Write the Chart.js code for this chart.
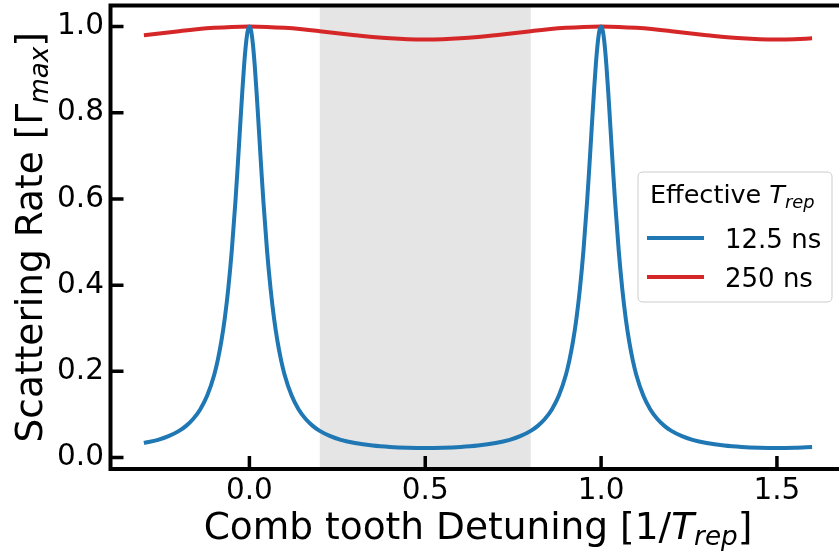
<!DOCTYPE html>
<html><head><meta charset="utf-8">
<script src="https://cdn.jsdelivr.net/npm/chart.js@4"></script>
<style>html,body{margin:0;padding:0;background:#fff;overflow:hidden;width:839px;height:552px}</style>
</head><body>
<canvas id="c" width="860" height="552" style="width:860px;height:552px;display:block"></canvas>
<script>
// ---- data ----
const blueX = [-0.30,-0.26,-0.23,-0.20,-0.18,-0.16,-0.14,-0.12,-0.10,-0.09,-0.08,-0.07,-0.06,-0.05,-0.04,-0.035,-0.03,-0.025,-0.02,-0.015,-0.01,-0.005,
  0,0.005,0.01,0.015,0.02,0.025,0.03,0.035,0.04,0.05,0.06,0.07,0.08,0.09,0.10,0.12,0.14,0.16,0.18,0.20,0.23,0.26,0.30,0.35,0.40,0.45,
  0.50,0.55,0.60,0.65,0.70,0.74,0.77,0.80,0.82,0.84,0.86,0.88,0.90,0.91,0.92,0.93,0.94,0.95,0.96,0.965,0.97,0.975,0.98,0.985,0.99,0.995,
  1.00,1.005,1.01,1.015,1.02,1.025,1.03,1.035,1.04,1.05,1.06,1.07,1.08,1.09,1.10,1.12,1.14,1.16,1.18,1.20,1.23,1.26,1.30,1.35,1.40,1.45,
  1.50,1.55,1.60];
const blueY = [0.0336,0.0410,0.0494,0.0617,0.0734,0.0892,0.1114,0.1436,0.1922,0.2260,0.2687,0.3232,0.3930,0.4815,0.5913,0.6537,0.7196,0.7869,0.8522,0.9111,0.9584,0.9893,
  1.0,0.9893,0.9584,0.9111,0.8522,0.7869,0.7196,0.6537,0.5913,0.4815,0.3930,0.3232,0.2687,0.2260,0.1922,0.1436,0.1114,0.0892,0.0734,0.0617,0.0494,0.0410,0.0336,0.0278,0.0245,0.0228,
  0.0222,0.0228,0.0245,0.0278,0.0336,0.0410,0.0494,0.0617,0.0734,0.0892,0.1114,0.1436,0.1922,0.2260,0.2687,0.3232,0.3930,0.4815,0.5913,0.6537,0.7196,0.7869,0.8522,0.9111,0.9584,0.9893,
  1.0,0.9893,0.9584,0.9111,0.8522,0.7869,0.7196,0.6537,0.5913,0.4815,0.3930,0.3232,0.2687,0.2260,0.1922,0.1436,0.1114,0.0892,0.0734,0.0617,0.0494,0.0410,0.0336,0.0278,0.0245,0.0228,
  0.0222,0.0228,0.0245];
const redX = [-0.30,-0.25,-0.20,-0.15,-0.10,-0.05,0,0.05,0.10,0.15,0.20,0.25,0.30,0.35,0.40,0.45,0.50,0.55,0.60,0.65,0.70,0.75,0.80,0.85,0.90,0.95,
  1.00,1.05,1.10,1.15,1.20,1.25,1.30,1.35,1.40,1.45,1.50,1.55,1.60];
const redY = [0.9801,0.9847,0.9894,0.9937,0.9971,0.9992,1.0,0.9992,0.9971,0.9937,0.9894,0.9847,0.9801,0.9760,0.9727,0.9706,0.9699,0.9706,0.9727,0.9760,0.9801,0.9847,0.9894,0.9937,0.9971,0.9992,
  1.0,0.9992,0.9971,0.9937,0.9894,0.9847,0.9801,0.9760,0.9727,0.9706,0.9699,0.9706,0.9727];
const xTicks = [0, 0.5, 1.0, 1.5];
const yTicks = [0, 0.2, 0.4, 0.6, 0.8, 1.0];
const seriesLabels = ['12.5 ns', '250 ns'];
const shadeRange = [0.2, 0.8];

const FONT = '"DejaVu Sans", sans-serif';
const BLUE = '#1f77b4', RED = '#d62728';

function drawRich(ctx, parts, x, y, align) {
  let w = 0;
  parts.forEach(p => { ctx.font = p.font; p.w = ctx.measureText(p.text).width; w += p.w; });
  let cx = align === 'center' ? x - w / 2 : (align === 'right' ? x - w : x);
  ctx.textBaseline = 'alphabetic'; ctx.textAlign = 'left'; ctx.fillStyle = '#000';
  parts.forEach(p => { ctx.font = p.font; ctx.fillText(p.text, cx, y + (p.dy || 0)); cx += p.w; });
}

const decor = {
  id: 'decor',
  beforeDatasetsDraw(chart) {
    const { ctx, chartArea: a, scales: { x } } = chart;
    const x0 = x.getPixelForValue(shadeRange[0]), x1 = x.getPixelForValue(shadeRange[1]);
    ctx.save();
    ctx.fillStyle = '#e5e5e5';
    ctx.fillRect(x0, a.top, x1 - x0, a.bottom - a.top);
    ctx.restore();
  },
  afterDraw(chart) {
    const { ctx, chartArea: a, scales: { x, y } } = chart;
    ctx.save();
    // spines
    ctx.strokeStyle = '#000'; ctx.lineWidth = 4; ctx.lineCap = 'square';
    ctx.beginPath();
    ctx.moveTo(a.left, a.bottom); ctx.lineTo(a.left, a.top); ctx.lineTo(a.right, a.top);
    ctx.moveTo(a.left, a.bottom); ctx.lineTo(a.right, a.bottom);
    ctx.stroke();
    // inward ticks
    ctx.lineCap = 'butt'; ctx.lineWidth = 3.5;
    ctx.beginPath();
    xTicks.forEach(v => { const px = x.getPixelForValue(v); ctx.moveTo(px, a.bottom); ctx.lineTo(px, a.bottom - 13); });
    yTicks.forEach(v => { const py = y.getPixelForValue(v); ctx.moveTo(a.left, py); ctx.lineTo(a.left + 13, py); });
    ctx.stroke();
    // axis titles
    const S = 37.5;
    drawRich(ctx, [
      { text: 'Comb tooth Detuning [1/', font: S + 'px ' + FONT },
      { text: 'T', font: 'italic ' + S + 'px ' + FONT },
      { text: 'rep', font: 'italic ' + (S * 0.7) + 'px ' + FONT, dy: S * 0.17 },
      { text: ']', font: S + 'px ' + FONT }
    ], (a.left + a.right) / 2, 539, 'center');
    ctx.save();
    ctx.translate(42, (a.top + a.bottom) / 2);
    ctx.rotate(-Math.PI / 2);
    drawRich(ctx, [
      { text: 'Scattering Rate [Γ', font: S + 'px ' + FONT },
      { text: 'max', font: 'italic ' + (S * 0.7) + 'px ' + FONT, dy: S * 0.17 },
      { text: ']', font: S + 'px ' + FONT }
    ], 0, 0, 'center');
    ctx.restore();
    // legend
    const bx = 638, by = 172, bw = 194, bh = 130, r = 5;
    ctx.beginPath();
    ctx.moveTo(bx + r, by); ctx.lineTo(bx + bw - r, by); ctx.quadraticCurveTo(bx + bw, by, bx + bw, by + r);
    ctx.lineTo(bx + bw, by + bh - r); ctx.quadraticCurveTo(bx + bw, by + bh, bx + bw - r, by + bh);
    ctx.lineTo(bx + r, by + bh); ctx.quadraticCurveTo(bx, by + bh, bx, by + bh - r);
    ctx.lineTo(bx, by + r); ctx.quadraticCurveTo(bx, by, bx + r, by);
    ctx.closePath();
    ctx.fillStyle = 'rgba(255,255,255,0.8)'; ctx.fill();
    ctx.strokeStyle = '#cccccc'; ctx.lineWidth = 1; ctx.stroke();
    const T = 25.5;
    drawRich(ctx, [
      { text: 'Effective ', font: T + 'px ' + FONT },
      { text: 'T', font: 'italic ' + T + 'px ' + FONT },
      { text: 'rep', font: 'italic ' + (T * 0.7) + 'px ' + FONT, dy: T * 0.2 }
    ], 650, 203, 'left');
    const rows = [238, 277];
    chart.data.datasets.forEach((ds, i) => {
      ctx.strokeStyle = ds.borderColor; ctx.lineWidth = 4;
      ctx.beginPath(); ctx.moveTo(647, rows[i]); ctx.lineTo(704, rows[i]); ctx.stroke();
      drawRich(ctx, [{ text: ds.label, font: '26px ' + FONT }], 725, rows[i] + 9.5, 'left');
    });
    ctx.restore();
  }
};

new Chart(document.getElementById('c'), {
  type: 'scatter',
  data: {
    datasets: [
      { label: seriesLabels[0], data: blueX.map((v, i) => ({ x: v, y: blueY[i] })), showLine: true, borderColor: BLUE, borderWidth: 4, pointRadius: 0, cubicInterpolationMode: 'monotone' },
      { label: seriesLabels[1], data: redX.map((v, i) => ({ x: v, y: redY[i] })), showLine: true, borderColor: RED, borderWidth: 4, pointRadius: 0, tension: 0.4 }
    ]
  },
  options: {
    responsive: false, animation: false, devicePixelRatio: 1,
    layout: { padding: { left: 0, top: 5.5, right: 14.5, bottom: 0 } },
    plugins: { legend: { display: false }, tooltip: { enabled: false } },
    scales: {
      x: {
        type: 'linear', min: -0.395, max: 1.695,
        afterBuildTicks: s => { s.ticks = xTicks.map(v => ({ value: v })); },
        afterFit: s => { s.height = 83; s.paddingLeft = 0; s.paddingRight = 0; },
        grid: { display: false, drawTicks: false }, border: { display: false },
        ticks: { color: '#000', font: { family: FONT, size: 29.5 }, padding: 5, maxRotation: 0, autoSkip: false, callback: v => Number(v).toFixed(1) }
      },
      y: {
        type: 'linear', min: -0.0267, max: 1.0489,
        afterBuildTicks: s => { s.ticks = yTicks.map(v => ({ value: v })); },
        afterFit: s => { s.width = 110.5; s.paddingTop = 0; s.paddingBottom = 0; },
        grid: { display: false, drawTicks: false }, border: { display: false },
        ticks: { color: '#000', font: { family: FONT, size: 29.5 }, padding: 6.5, autoSkip: false, callback: v => Number(v).toFixed(1) }
      }
    }
  },
  plugins: [decor]
});
</script>
</body></html>
